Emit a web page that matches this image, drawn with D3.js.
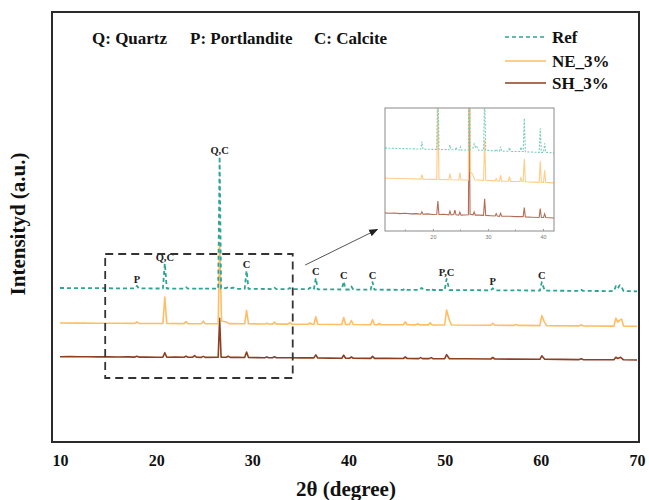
<!DOCTYPE html>
<html><head><meta charset="utf-8">
<script src="https://cdn.jsdelivr.net/npm/d3@7"></script>
<style>
html,body{margin:0;padding:0;background:#fff;}
svg{display:block;font-family:"Liberation Serif","Times New Roman",serif;}
</style></head><body>
<svg id="chart" width="649" height="500"></svg>
<script>
// ---------- data ----------
const seriesNames = ["Ref", "NE_3%", "SH_3%"];
// [2θ (degree), intensity (a.u.)]
const refData = [[10,100],[12,99],[14,98],[16,97],[17.8,96],[18.0,121],[18.2,96],[20,95],[20.7,95],[20.9,345],[21.1,95],[22.9,94],[23.1,109],[23.3,94],[24.1,94],[24.2,102],[24.4,93],[24.9,93],[25.0,103],[25.2,93],[26.45,93],[26.6,1413],[26.75,95],[27.3,100],[27.5,113],[27.8,100],[28.0,104],[28.3,92],[29.2,92],[29.4,272],[29.6,92],[31.3,90],[31.5,96],[31.7,90],[32.1,89],[32.3,104],[32.5,89],[33.7,89],[33.9,101],[34.1,88],[35.8,88],[36.0,103],[36.2,88],[36.4,88],[36.6,198],[36.8,87],[39.3,85],[39.5,165],[39.7,85],[40.1,85],[40.3,115],[40.5,85],[42.3,83],[42.5,158],[42.7,83],[45.7,82],[45.9,97],[46.1,82],[47.4,81],[47.6,101],[47.8,81],[48.4,81],[48.6,96],[48.8,80],[50.0,80],[50.2,190],[50.5,80],[54.8,77],[55.0,97],[55.2,77],[57.3,76],[57.5,84],[57.7,76],[59.9,74],[60.1,159],[60.4,74],[64.0,71],[64.2,81],[64.4,71],[67.6,69],[67.8,119],[68.0,95],[68.2,129],[68.4,109],[68.6,69],[70,67]];
const neData = [[10,100],[12,99],[14,98],[16,97],[17.8,96],[18.0,111],[18.2,96],[20,95],[20.7,95],[20.9,360],[21.1,95],[22.9,94],[23.1,114],[23.3,94],[24.7,93],[24.9,118],[25.1,93],[26.45,93],[26.6,903],[26.8,120],[27.2,113],[27.6,94],[29.2,92],[29.4,227],[29.6,92],[31.3,90],[31.5,98],[31.7,90],[32.1,89],[32.3,109],[32.5,89],[33.7,89],[33.9,104],[34.1,88],[35.8,88],[36.0,100],[36.2,88],[36.4,88],[36.6,163],[36.8,87],[39.3,85],[39.5,155],[39.7,85],[40.1,85],[40.3,125],[40.5,85],[42.3,83],[42.5,133],[42.7,83],[43.0,83],[43.2,95],[43.4,83],[45.7,82],[45.9,112],[46.1,82],[47.0,81],[47.2,93],[47.4,81],[48.3,81],[48.5,101],[48.7,80],[50.0,80],[50.2,230],[50.45,140],[50.7,80],[54.8,77],[55.0,97],[55.2,77],[57.2,76],[57.4,86],[57.6,76],[59.9,74],[60.1,174],[60.35,114],[60.6,74],[64.0,71],[64.2,83],[64.4,71],[67.6,69],[67.8,149],[68.0,109],[68.2,129],[68.4,139],[68.6,69],[70,67]];
const shData = [[10,100],[11,101],[12,99],[13,100],[14,98],[15,99],[16,97],[17,98],[17.8,96],[18.0,104],[18.2,96],[19,97],[20,95],[20.7,96],[20.9,140],[21.1,95],[22,96],[22.9,94],[23.1,106],[23.3,94],[23.8,95],[24.0,110],[24.2,94],[24.7,93],[24.9,103],[25.1,93],[26.45,94],[26.6,483],[26.75,96],[27.3,94],[27.5,104],[27.7,93],[28.5,93],[29.2,92],[29.4,147],[29.6,92],[30.5,91],[31.3,90],[31.5,98],[31.7,90],[32.1,89],[32.3,99],[32.5,89],[34,89],[35,88],[36.4,88],[36.6,118],[36.8,87],[38,86],[39.3,85],[39.5,115],[39.7,85],[40.1,85],[40.3,97],[40.5,85],[42.3,83],[42.5,103],[42.7,83],[44,83],[45.7,82],[45.9,97],[46.1,82],[47.3,81],[47.5,91],[47.7,81],[48.4,81],[48.6,91],[48.8,80],[50.0,80],[50.2,120],[50.5,80],[52,79],[54.8,77],[55.0,92],[55.2,77],[57,76],[59.9,74],[60.1,109],[60.4,74],[62,73],[64.0,71],[64.2,79],[64.4,71],[66,70],[67.6,69],[67.8,94],[68.0,82],[68.3,94],[68.6,69],[70,67]];
const mainOffsets = [1440, 1090, 753];   // vertical stacking shift (a.u.)
const insetOffsets = [177, 77, -40];
const xTicks = [10, 20, 30, 40, 50, 60, 70];
const insetTicks = [20, 30, 40];
const insetMinorTicks = [15, 25, 35];
const peakLabels = [[18.0,"P"],[20.9,"Q,C"],[26.6,"Q,C"],[29.4,"C"],[36.6,"C"],[39.5,"C"],[42.5,"C"],[50.2,"P,C"],[55.0,"P"],[60.1,"C"]];
const phaseKey = ["Q: Quartz", "P: Portlandite", "C: Calcite"];
const zoomBox = [14.7, 34.2, 640, 1880];          // [x0, x1, y0, y1] in data units
const arrowPts = [[35.5, 1770], [43.0, 2125]];

// ---------- chart ----------
const colors = ["#2ea593", "#ffbe63", "#8e3f22"];
const dashes = ["4,3", null, null];
const allData = [refData, neData, shData];
const svg = d3.select("#chart");
const FONT = '"Liberation Serif","Times New Roman",serif';

const frame = {x0: 52, y0: 12, x1: 639, y1: 442};
const x = d3.scaleLinear().domain([10, 70]).range([60, 637]);
const y = d3.scaleLinear().domain([0, 4300]).range([frame.y1, frame.y0]);

svg.append("defs").append("clipPath").attr("id", "mainClip")
  .append("rect").attr("x", frame.x0).attr("y", frame.y0)
  .attr("width", frame.x1 - frame.x0).attr("height", frame.y1 - frame.y0);

const plot = svg.append("g").attr("clip-path", "url(#mainClip)");

// traces (draw SH, NE, then Ref on top)
[2, 1, 0].forEach(i => {
  const off = mainOffsets[i];
  const line = d3.line().x(d => x(d[0])).y(d => y(d[1] + off));
  plot.append("path").datum(allData[i])
    .attr("fill", "none").attr("stroke", colors[i])
    .attr("stroke-width", i === 0 ? 1.8 : 1.6)
    .attr("stroke-dasharray", dashes[i])
    .attr("stroke-linejoin", "round")
    .attr("d", line);
});

// peak labels
const refMap = new Map(refData.map(d => [d[0], d[1]]));
svg.append("g").selectAll("text").data(peakLabels).join("text")
  .attr("x", d => x(d[0]))
  .attr("y", d => y(refMap.get(d[0]) + mainOffsets[0]) - 3)
  .attr("text-anchor", "middle")
  .attr("font-size", 10.5).attr("font-weight", "bold").attr("fill", "#222")
  .text(d => d[1]);

// dashed zoom box
svg.append("rect")
  .attr("x", x(zoomBox[0])).attr("y", y(zoomBox[3]))
  .attr("width", x(zoomBox[1]) - x(zoomBox[0]))
  .attr("height", y(zoomBox[2]) - y(zoomBox[3]))
  .attr("fill", "none").attr("stroke", "#333").attr("stroke-width", 1.8)
  .attr("stroke-dasharray", "8,5");

// arrow
svg.select("defs").append("marker").attr("id", "arrowHead")
  .attr("viewBox", "0 0 10 10").attr("refX", 9).attr("refY", 5)
  .attr("markerWidth", 9).attr("markerHeight", 9).attr("orient", "auto")
  .attr("markerUnits", "userSpaceOnUse")
  .append("path").attr("d", "M0,1 L10,5 L0,9 Z").attr("fill", "#222");
svg.append("line")
  .attr("x1", x(arrowPts[0][0])).attr("y1", y(arrowPts[0][1]))
  .attr("x2", x(arrowPts[1][0])).attr("y2", y(arrowPts[1][1]))
  .attr("stroke", "#555").attr("stroke-width", 1)
  .attr("marker-end", "url(#arrowHead)");

// frame
svg.append("rect").attr("x", frame.x0).attr("y", frame.y0)
  .attr("width", frame.x1 - frame.x0).attr("height", frame.y1 - frame.y0)
  .attr("fill", "none").attr("stroke", "#2b2b2b").attr("stroke-width", 2);

// x axis
const xAxis = d3.axisBottom(x).tickValues(xTicks).tickSize(0).tickPadding(13);
const gx = svg.append("g").attr("transform", `translate(0,${frame.y1})`).call(xAxis);
gx.select(".domain").remove();
gx.selectAll("text").attr("font-family", FONT).attr("font-size", 16)
  .attr("font-weight", "bold").attr("fill", "#111");

svg.append("text").attr("x", 346).attr("y", 496).attr("text-anchor", "middle")
  .attr("font-size", 21).attr("font-weight", "bold").attr("fill", "#111")
  .text("2θ (degree)");

svg.append("text").attr("transform", "translate(25,224) rotate(-90)")
  .attr("text-anchor", "middle")
  .attr("font-size", 21).attr("font-weight", "bold").attr("fill", "#111")
  .text("Intensityd (a.u.)");

// phase key
const keyX = [92, 190, 314];
svg.append("g").selectAll("text").data(phaseKey).join("text")
  .attr("x", (d, i) => keyX[i]).attr("y", 43.5)
  .attr("font-size", 17).attr("font-weight", "bold").attr("fill", "#111")
  .text(d => d);

// legend
const legY = [37, 61, 83];
const leg = svg.append("g");
seriesNames.forEach((n, i) => {
  leg.append("line").attr("x1", 505).attr("x2", 546)
    .attr("y1", legY[i]).attr("y2", legY[i])
    .attr("stroke", colors[i]).attr("stroke-width", 1.7)
    .attr("stroke-dasharray", dashes[i]);
  leg.append("text").attr("x", 552).attr("y", legY[i] + 6)
    .attr("font-size", 17).attr("font-weight", "bold").attr("fill", "#111")
    .text(n);
});

// inset
const inset = {x0: 385, y0: 108, x1: 554, y1: 231};
const xi = d3.scaleLinear().domain([11.3, 42]).range([inset.x0, inset.x1]);
const yi = d3.scaleLinear().domain([0, 410]).range([inset.y1, inset.y0]);
svg.select("defs").append("clipPath").attr("id", "insetClip")
  .append("rect").attr("x", inset.x0).attr("y", inset.y0)
  .attr("width", inset.x1 - inset.x0).attr("height", inset.y1 - inset.y0);
svg.append("rect").attr("x", inset.x0).attr("y", inset.y0)
  .attr("width", inset.x1 - inset.x0).attr("height", inset.y1 - inset.y0)
  .attr("fill", "#fff");
const ig = svg.append("g").attr("clip-path", "url(#insetClip)");
const insetColors = ["#7ccbbb", "#ffcd85", "#b46e55"];
[2, 1, 0].forEach(i => {
  const off = insetOffsets[i];
  const line = d3.line().x(d => xi(d[0])).y(d => yi(d[1] + off));
  ig.append("path").datum(allData[i].filter(d => d[0] <= 43))
    .attr("fill", "none").attr("stroke", insetColors[i])
    .attr("stroke-width", 1.1)
    .attr("stroke-dasharray", i === 0 ? "2,1.5" : null)
    .attr("d", line);
});
svg.append("rect").attr("x", inset.x0).attr("y", inset.y0)
  .attr("width", inset.x1 - inset.x0).attr("height", inset.y1 - inset.y0)
  .attr("fill", "none").attr("stroke", "#8a8a8a").attr("stroke-width", 1);
const ixAxis = d3.axisBottom(xi).tickValues(insetTicks).tickSize(-2).tickPadding(4)
  .tickFormat(d3.format("d"));
const gix = svg.append("g").attr("transform", `translate(0,${inset.y1})`).call(ixAxis);
gix.select(".domain").remove();
gix.selectAll("line").attr("stroke", "#999");
gix.selectAll("text").attr("font-family", "Liberation Sans, sans-serif")
  .attr("font-size", 5.5).attr("fill", "#777");
svg.append("g").selectAll("line").data(insetMinorTicks).join("line")
  .attr("x1", d => xi(d)).attr("x2", d => xi(d))
  .attr("y1", inset.y1).attr("y2", inset.y1 - 1.5)
  .attr("stroke", "#999");
</script>
</body></html>
